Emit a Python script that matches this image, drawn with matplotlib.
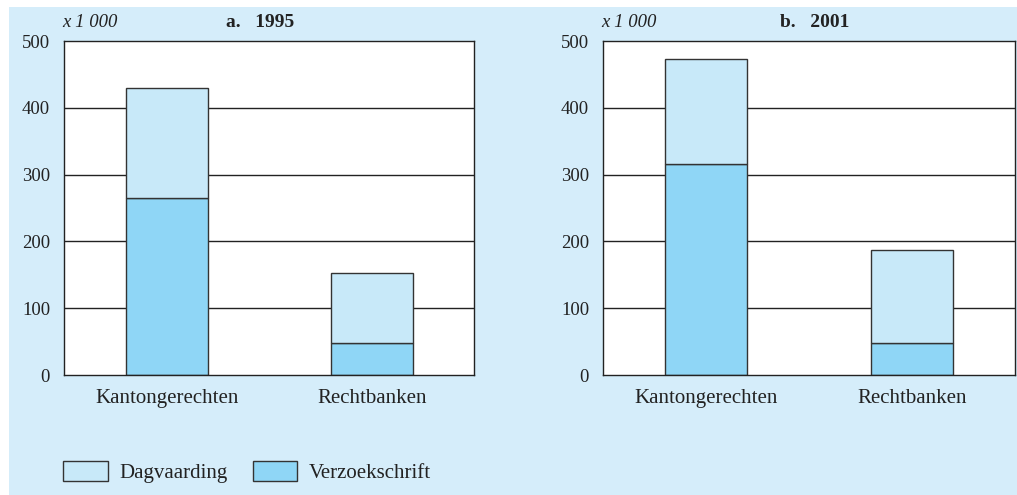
import matplotlib
matplotlib.use("Agg")
import matplotlib.pyplot as plt
from matplotlib.patches import Rectangle, Patch

# --- DATA (x 1 000) ---
categories = ["Kantongerechten", "Rechtbanken"]
panels = ["a.   1995", "b.   2001"]
verzoekschrift_1995 = [265, 48]
dagvaarding_1995 = [165, 105]
verzoekschrift_2001 = [316, 48]
dagvaarding_2001 = [157, 139]
yticks = [0, 100, 200, 300, 400, 500]
# ----------------------

bg = "#d5edfa"
c_dag = "#c8e9f9"
c_ver = "#8fd6f6"
edge = "#333333"

plt.rcParams["font.family"] = ["Liberation Serif", "DejaVu Serif"]

fig = plt.figure(figsize=(10.17, 4.95), dpi=100)
fig.patch.set_facecolor("white")
fig.patches.append(Rectangle((9 / 1017, 0), 1 - 9 / 1017, 1 - 7 / 495,
                             transform=fig.transFigure, facecolor=bg,
                             edgecolor="none", zorder=-10))

boxes = [[0.0629, 0.2424, 0.4036, 0.6747], [0.5929, 0.2424, 0.4051, 0.6747]]
title_x = [0.395, 0.43]
data = [(verzoekschrift_1995, dagvaarding_1995), (verzoekschrift_2001, dagvaarding_2001)]

for box, title, tx, (ver, dag) in zip(boxes, panels, title_x, data):
    ax = fig.add_axes(box)
    ax.set_facecolor("white")
    x = range(len(categories))
    for y in yticks[1:-1]:
        ax.axhline(y, color="#222222", lw=1.0, zorder=1)
    ax.bar(x, ver, width=0.4, color=c_ver, edgecolor=edge, lw=1.0, zorder=2)
    ax.bar(x, dag, width=0.4, bottom=ver, color=c_dag, edgecolor=edge, lw=1.0, zorder=2)
    ax.set_xlim(-0.5, 1.5)
    ax.set_ylim(0, 500)
    ax.set_yticks(yticks)
    ax.set_xticks(list(x))
    ax.set_xticklabels(categories, fontsize=15)
    ax.tick_params(length=0, colors="#222222")
    ax.tick_params(axis="y", pad=10, labelsize=13.5)
    ax.tick_params(axis="x", pad=10)
    for s in ax.spines.values():
        s.set_color("#222222")
        s.set_linewidth(1.0)
    ax.text(-0.005, 1.055, "x 1 000", transform=ax.transAxes, style="italic",
            fontsize=13.5, color="#222222", ha="left", va="center")
    ax.text(tx, 1.055, title, transform=ax.transAxes, fontweight="bold",
            fontsize=14, color="#222222", ha="left", va="center")

handles = [Patch(facecolor=c_dag, edgecolor=edge, lw=1.0, label="Dagvaarding"),
           Patch(facecolor=c_ver, edgecolor=edge, lw=1.0, label="Verzoekschrift")]
leg = fig.legend(handles=handles, loc="center left", bbox_to_anchor=(0.062, 0.047),
                 ncol=2, frameon=False, fontsize=15, handlelength=2.15,
                 handleheight=1.1, handletextpad=0.55, columnspacing=1.2,
                 borderpad=0, borderaxespad=0)
for t in leg.get_texts():
    t.set_color("#222222")

fig.savefig("out.png", dpi=100, facecolor=fig.get_facecolor())
